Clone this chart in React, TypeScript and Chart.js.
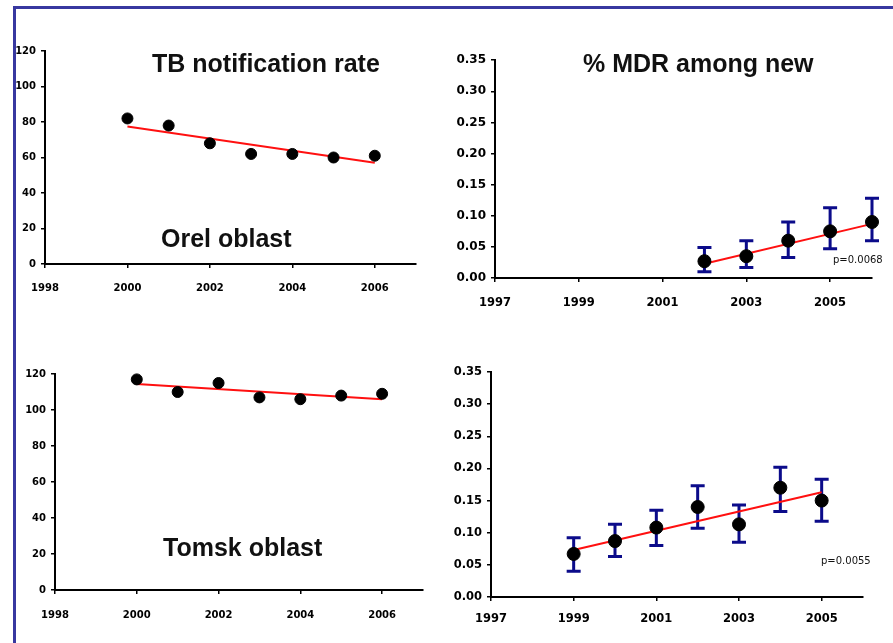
import React, { useEffect, useRef } from "react";
import { Chart, registerables } from "chart.js";

Chart.register(...registerables);

// ---------- data ----------
const notifYears = [2000, 2001, 2002, 2003, 2004, 2005, 2006];
const orelRate = [82, 78, 68, 62, 62, 60, 61];
const tomskRate = [117, 110, 115, 107, 106, 108, 109];
const notifTrendYears = [2000, 2006];
const orelRateTrend = [77.5, 57];
const tomskRateTrend = [114.5, 106];

const orelMdrYears = [2002, 2003, 2004, 2005, 2006];
const orelMdr = [0.027, 0.035, 0.06, 0.075, 0.09];
const orelMdrLow = [0.01, 0.017, 0.033, 0.047, 0.06];
const orelMdrHigh = [0.049, 0.06, 0.09, 0.113, 0.128];
const orelMdrTrendYears = [2002, 2006];
const orelMdrTrend = [0.023, 0.087];

const tomskMdrYears = [1999, 2000, 2001, 2002, 2003, 2004, 2005];
const tomskMdr = [0.067, 0.087, 0.108, 0.14, 0.113, 0.17, 0.15];
const tomskMdrLow = [0.04, 0.063, 0.08, 0.107, 0.085, 0.133, 0.118];
const tomskMdrHigh = [0.092, 0.113, 0.135, 0.173, 0.143, 0.202, 0.183];
const tomskMdrTrendYears = [1999, 2005];
const tomskMdrTrend = [0.073, 0.163];

const rateXTicks = [1998, 2000, 2002, 2004, 2006];
const mdrXTicks = [1997, 1999, 2001, 2003, 2005];
const rateYTicks = [0, 20, 40, 60, 80, 100, 120];
const mdrYTicks = [0, 0.05, 0.1, 0.15, 0.2, 0.25, 0.3, 0.35];

const pOrel = "p=0.0068";
const pTomsk = "p=0.0055";

// ---------- layout constants ----------
const Y_W = 45;
const X_H = 36;
const PAD_T = 12;
const PAD_R = 12;

type Area = { left: number; right: number; top: number; bottom: number };

function drawErrorBars(chart: any) {
  const eb = chart.options.plugins.errorBars;
  if (!eb || !eb.years) return;
  const { ctx } = chart;
  const xs = chart.scales.x;
  const ys = chart.scales.y;
  ctx.save();
  ctx.strokeStyle = eb.color;
  ctx.lineWidth = eb.width;
  ctx.lineCap = "butt";
  eb.years.forEach((yr: number, i: number) => {
    const x = xs.getPixelForValue(yr);
    const yl = ys.getPixelForValue(eb.low[i]);
    const yh = ys.getPixelForValue(eb.high[i]);
    ctx.beginPath();
    ctx.moveTo(x, yl);
    ctx.lineTo(x, yh);
    ctx.moveTo(x - eb.cap, yl);
    ctx.lineTo(x + eb.cap, yl);
    ctx.moveTo(x - eb.cap, yh);
    ctx.lineTo(x + eb.cap, yh);
    ctx.stroke();
  });
  ctx.restore();
}

type PanelProps = {
  area: Area;
  years: number[];
  values: number[];
  trendYears: number[];
  trend: number[];
  low?: number[];
  high?: number[];
  xMin: number;
  xMax: number;
  xTicks: number[];
  yTicks: number[];
  yMax: number;
  decimals: number;
  xFont: number;
  yFont: number;
  xPad: number;
  radius: number;
};

function Panel(p: PanelProps) {
  const ref = useRef<HTMLCanvasElement | null>(null);
  const left = p.area.left - Y_W;
  const top = p.area.top - PAD_T;
  const width = p.area.right + PAD_R - left;
  const height = p.area.bottom + X_H - top;

  useEffect(() => {
    if (!ref.current) return;
    const fontFamily = "'DejaVu Sans', sans-serif";
    const chart = new Chart(ref.current, {
      type: "scatter",
      data: {
        datasets: [
          {
            type: "line",
            data: p.trendYears.map((x, i) => ({ x, y: p.trend[i] })),
            borderColor: "#ff1010",
            borderWidth: 2,
            pointRadius: 0,
            fill: false,
            order: 2,
            clip: false as any,
          } as any,
          {
            data: p.years.map((x, i) => ({ x, y: p.values[i] })),
            backgroundColor: "#000000",
            borderColor: "#000000",
            pointRadius: p.radius,
            pointHoverRadius: p.radius,
            order: 1,
            clip: false as any,
          },
        ],
      },
      options: {
        animation: false,
        responsive: false,
        events: [],
        layout: { padding: { top: PAD_T, right: PAD_R, left: 0, bottom: 0 } },
        plugins: {
          legend: { display: false },
          tooltip: { enabled: false },
          errorBars: p.low
            ? { years: p.years, low: p.low, high: p.high, color: "#0b0b8a", width: 3, cap: 7 }
            : undefined,
        } as any,
        scales: {
          x: {
            type: "linear",
            min: p.xMin,
            max: p.xMax,
            afterBuildTicks: (s: any) => {
              s.ticks = p.xTicks.map((v) => ({ value: v }));
            },
            afterFit: (s: any) => {
              s.height = X_H;
            },
            ticks: {
              autoSkip: false,
              maxRotation: 0,
              color: "#000",
              font: { family: fontFamily, size: p.xFont, weight: "bold" },
              padding: p.xPad,
              callback: (v: any) => String(v),
            },
            grid: {
              drawOnChartArea: false,
              drawTicks: true,
              tickLength: 4,
              color: "#000",
              lineWidth: 1.5,
            },
            border: { display: true, color: "#000", width: 2 },
          },
          y: {
            type: "linear",
            min: 0,
            max: p.yMax,
            afterBuildTicks: (s: any) => {
              s.ticks = p.yTicks.map((v) => ({ value: v }));
            },
            afterFit: (s: any) => {
              s.width = Y_W;
            },
            ticks: {
              autoSkip: false,
              color: "#000",
              font: { family: fontFamily, size: p.yFont, weight: "bold" },
              padding: 5,
              callback: (v: any) => Number(v).toFixed(p.decimals),
            },
            grid: {
              drawOnChartArea: false,
              drawTicks: true,
              tickLength: 4,
              color: "#000",
              lineWidth: 1.5,
            },
            border: { display: true, color: "#000", width: 2 },
          },
        },
      } as any,
      plugins: [
        {
          id: "errorBarsBelow",
          beforeDatasetsDraw(chart: any) {
            drawErrorBars(chart);
          },
        },
      ],
    });
    return () => chart.destroy();
  }, []);

  return (
    <div style={{ position: "absolute", left, top, width, height }}>
      <canvas ref={ref} width={width} height={height} style={{ width, height, display: "block" }} />
    </div>
  );
}

function Label(props: { text: string; left: number; top: number; size: number; bold?: boolean; family: string }) {
  return (
    <div
      style={{
        position: "absolute",
        left: props.left,
        top: props.top,
        fontSize: props.size,
        lineHeight: 1,
        fontWeight: props.bold ? "bold" : "normal",
        fontFamily: props.family,
        color: "#111",
        whiteSpace: "nowrap",
      }}
    >
      {props.text}
    </div>
  );
}

export default function App() {
  const arial = "'Liberation Sans', Arial, sans-serif";
  const dejavu = "'DejaVu Sans', sans-serif";
  return (
    <div
      style={{
        position: "fixed",
        left: 0,
        top: 0,
        width: 893,
        height: 643,
        background: "#fff",
        overflow: "hidden",
      }}
    >
      <div style={{ position: "absolute", left: 13, top: 6, width: 880, height: 3, background: "#3838a0" }} />
      <div style={{ position: "absolute", left: 13, top: 6, width: 3, height: 637, background: "#3838a0" }} />

      <Panel
        area={{ left: 45, right: 416, top: 51, bottom: 264 }}
        years={notifYears}
        values={orelRate}
        trendYears={notifTrendYears}
        trend={orelRateTrend}
        xMin={1998}
        xMax={2007}
        xTicks={rateXTicks}
        yTicks={rateYTicks}
        yMax={120}
        decimals={0}
        xFont={10}
        yFont={10}
        xPad={14}
        radius={5.5}
      />
      <Panel
        area={{ left: 495, right: 872, top: 60, bottom: 278 }}
        years={orelMdrYears}
        values={orelMdr}
        low={orelMdrLow}
        high={orelMdrHigh}
        trendYears={orelMdrTrendYears}
        trend={orelMdrTrend}
        xMin={1997}
        xMax={2006}
        xTicks={mdrXTicks}
        yTicks={mdrYTicks}
        yMax={0.35}
        decimals={2}
        xFont={11.5}
        yFont={12}
        xPad={14}
        radius={6.5}
      />
      <Panel
        area={{ left: 55, right: 423, top: 374, bottom: 590 }}
        years={notifYears}
        values={tomskRate}
        trendYears={notifTrendYears}
        trend={tomskRateTrend}
        xMin={1998}
        xMax={2007}
        xTicks={rateXTicks}
        yTicks={rateYTicks}
        yMax={120}
        decimals={0}
        xFont={10}
        yFont={10}
        xPad={15}
        radius={5.5}
      />
      <Panel
        area={{ left: 491, right: 863, top: 372, bottom: 597 }}
        years={tomskMdrYears}
        values={tomskMdr}
        low={tomskMdrLow}
        high={tomskMdrHigh}
        trendYears={tomskMdrTrendYears}
        trend={tomskMdrTrend}
        xMin={1997}
        xMax={2006}
        xTicks={mdrXTicks}
        yTicks={mdrYTicks}
        yMax={0.35}
        decimals={2}
        xFont={11.5}
        yFont={11.5}
        xPad={11}
        radius={6.5}
      />

      <Label text="TB notification rate" left={152} top={51} size={25} bold family={arial} />
      <Label text="Orel oblast" left={161} top={226} size={25} bold family={arial} />
      <Label text="% MDR among new" left={583} top={51} size={25} bold family={arial} />
      <Label text="Tomsk oblast" left={163} top={535} size={25} bold family={arial} />
      <Label text={pOrel} left={833} top={255} size={10} family={dejavu} />
      <Label text={pTomsk} left={821} top={556} size={10} family={dejavu} />
    </div>
  );
}
